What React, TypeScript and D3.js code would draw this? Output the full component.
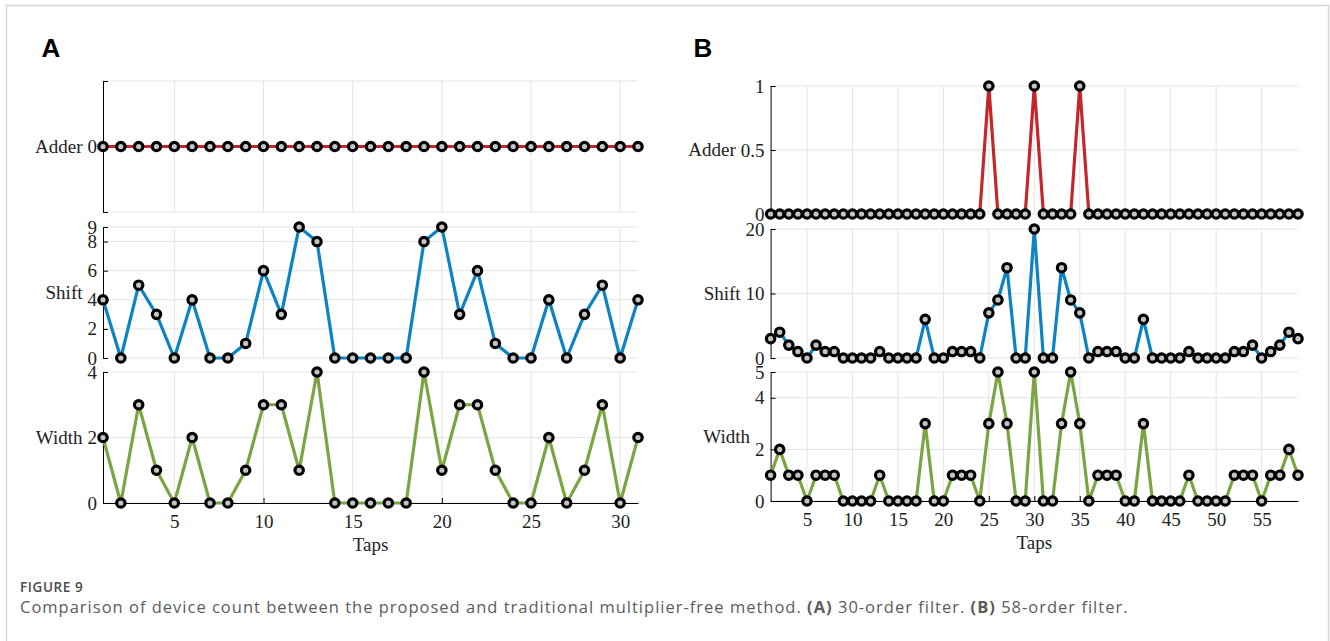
import React, { useEffect, useRef } from 'react';
import * as d3 from 'd3';

// Panel A: 30-order filter (31 taps)
const tapsA = d3.range(1, 32);
const adderA = [0, 0, 0, 0, 0, 0, 0, 0, 0, 0, 0, 0, 0, 0, 0, 0, 0, 0, 0, 0, 0, 0, 0, 0, 0, 0, 0, 0, 0, 0, 0];
const shiftA = [4, 0, 5, 3, 0, 4, 0, 0, 1, 6, 3, 9, 8, 0, 0, 0, 0, 0, 8, 9, 3, 6, 1, 0, 0, 4, 0, 3, 5, 0, 4];
const widthA = [2, 0, 3, 1, 0, 2, 0, 0, 1, 3, 3, 1, 4, 0, 0, 0, 0, 0, 4, 1, 3, 3, 1, 0, 0, 2, 0, 1, 3, 0, 2];

// Panel B: 58-order filter (59 taps)
const tapsB = d3.range(1, 60);
const adderB = [0, 0, 0, 0, 0, 0, 0, 0, 0, 0, 0, 0, 0, 0, 0, 0, 0, 0, 0, 0, 0, 0, 0, 0, 1, 0, 0, 0, 0, 1,
  0, 0, 0, 0, 1, 0, 0, 0, 0, 0, 0, 0, 0, 0, 0, 0, 0, 0, 0, 0, 0, 0, 0, 0, 0, 0, 0, 0, 0];
const shiftB = [3, 4, 2, 1, 0, 2, 1, 1, 0, 0, 0, 0, 1, 0, 0, 0, 0, 6, 0, 0, 1, 1, 1, 0, 7, 9, 14, 0, 0, 20,
  0, 0, 14, 9, 7, 0, 1, 1, 1, 0, 0, 6, 0, 0, 0, 0, 1, 0, 0, 0, 0, 1, 1, 2, 0, 1, 2, 4, 3];
const widthB = [1, 2, 1, 1, 0, 1, 1, 1, 0, 0, 0, 0, 1, 0, 0, 0, 0, 3, 0, 0, 1, 1, 1, 0, 3, 5, 3, 0, 0, 5,
  0, 0, 3, 5, 3, 0, 1, 1, 1, 0, 0, 3, 0, 0, 0, 0, 1, 0, 0, 0, 0, 1, 1, 1, 0, 1, 1, 2, 1];

// tick values
const xTicksA = [5, 10, 15, 20, 25, 30];
const xTicksB = [5, 10, 15, 20, 25, 30, 35, 40, 45, 50, 55];
const adderTicksA = [-1, 0, 1];
const shiftTicksA = [0, 2, 4, 6, 8, 9];
const widthTicksA = [0, 2, 4];
const adderTicksB = [0, 0.5, 1];
const shiftTicksB = [0, 10, 20];
const widthTicksB = [0, 2, 4, 5];

const RED = '#c4262c';
const BLUE = '#0d82c4';
const GREEN = '#7ba442';
const SERIF = '"Liberation Serif", "Times New Roman", serif';

const App = () => {
  const ref = useRef<SVGSVGElement>(null);

  useEffect(() => {
    const svg = d3.select(ref.current);
    svg.selectAll('*').remove();

    // outer frame
    svg.append('path')
      .attr('d', 'M6.5,700 V5.5 H1328.5 V700')
      .attr('fill', 'none')
      .attr('stroke', '#d6d6d6')
      .attr('stroke-width', 1.5);

    const drawSub = (x, taps, values, domain, yRange, ticks, tickFmt, color, label, xTicks, bottom) => {
      const y = d3.scaleLinear().domain(domain).range(yRange);
      const [x0, x1] = x.range();
      const g = svg.append('g');

      // grid
      g.selectAll('.vg').data(xTicks).enter().append('line')
        .attr('x1', d => x(d)).attr('x2', d => x(d))
        .attr('y1', yRange[0]).attr('y2', yRange[1])
        .attr('stroke', '#e4e4e4').attr('stroke-width', 1);
      g.selectAll('.hg').data(ticks).enter().append('line')
        .attr('x1', x0).attr('x2', x1)
        .attr('y1', d => y(d)).attr('y2', d => y(d))
        .attr('stroke', '#e4e4e4').attr('stroke-width', 1);

      // y axis
      const ay = g.append('g')
        .attr('transform', `translate(${x0},0)`)
        .call(d3.axisLeft(y).tickValues(ticks).tickFormat(tickFmt).tickSize(-5).tickSizeOuter(0).tickPadding(6));
      ay.select('.domain').attr('stroke', '#000');
      ay.selectAll('line').attr('stroke', '#000');
      ay.selectAll('text').attr('font-family', SERIF).attr('font-size', 19).attr('fill', '#222');

      // y label next to the widest tick label
      let minX = 0;
      ay.selectAll('text').each(function () {
        const t = this as SVGTextElement;
        if (t.textContent) minX = Math.min(minX, -6 - t.getComputedTextLength());
      });
      g.append('text')
        .attr('x', x0 + minX - 5)
        .attr('y', (yRange[0] + yRange[1]) / 2)
        .attr('dy', '0.32em')
        .attr('text-anchor', 'end')
        .attr('font-family', SERIF).attr('font-size', 19).attr('fill', '#222')
        .text(label);

      if (bottom) {
        const ax = g.append('g')
          .attr('transform', `translate(0,${yRange[0]})`)
          .call(d3.axisBottom(x).tickValues(xTicks).tickSize(-5).tickSizeOuter(0).tickPadding(12));
        ax.select('.domain').attr('stroke', '#000');
        ax.selectAll('line').attr('stroke', '#000');
        ax.selectAll('text').attr('font-family', SERIF).attr('font-size', 19).attr('fill', '#222');
        g.append('text')
          .attr('x', (x0 + x1) / 2)
          .attr('y', yRange[0] + 48)
          .attr('text-anchor', 'middle')
          .attr('font-family', SERIF).attr('font-size', 19).attr('fill', '#222')
          .text('Taps');
      }

      const line = d3.line<number>()
        .x((d, i) => x(taps[i]))
        .y(d => y(d));
      g.append('path')
        .datum(values)
        .attr('fill', 'none')
        .attr('stroke', color)
        .attr('stroke-width', 3.2)
        .attr('stroke-linejoin', 'round')
        .attr('d', line);

      g.selectAll('.pt').data(values).enter().append('circle')
        .attr('cx', (d, i) => x(taps[i]))
        .attr('cy', d => y(d))
        .attr('r', 4.2)
        .attr('fill', '#c4c4c4')
        .attr('stroke', '#000')
        .attr('stroke-width', 3.2);
    };

    const xA = d3.scaleLinear().domain([1, 31]).range([103, 638]);
    const xB = d3.scaleLinear().domain([1, 59]).range([770.6, 1298]);
    const fmt = d => String(d);

    drawSub(xA, tapsA, adderA, [-1, 1], [212, 81], adderTicksA, d => (d === 0 ? '0' : ''), RED, 'Adder', xTicksA, false);
    drawSub(xA, tapsA, shiftA, [0, 9], [358, 227], shiftTicksA, fmt, BLUE, 'Shift', xTicksA, false);
    drawSub(xA, tapsA, widthA, [0, 4], [503, 372], widthTicksA, fmt, GREEN, 'Width', xTicksA, true);

    drawSub(xB, tapsB, adderB, [0, 1], [214, 86], adderTicksB, fmt, RED, 'Adder', xTicksB, false);
    drawSub(xB, tapsB, shiftB, [0, 20], [358, 229], shiftTicksB, fmt, BLUE, 'Shift', xTicksB, false);
    drawSub(xB, tapsB, widthB, [0, 5], [501, 372], widthTicksB, fmt, GREEN, 'Width', xTicksB, true);

    // panel letters
    [['A', 51], ['B', 703]].forEach(([t, px]) => {
      svg.append('text')
        .attr('x', px).attr('y', 57)
        .attr('text-anchor', 'middle')
        .attr('font-family', '"Liberation Sans", Arial, sans-serif')
        .attr('font-weight', 'bold')
        .attr('font-size', 26)
        .attr('fill', '#000')
        .text(t);
    });

    // caption
    svg.append('text')
      .attr('x', 20).attr('y', 592)
      .attr('font-family', '"Open Sans", sans-serif')
      .attr('font-size', 13.5)
      .attr('font-weight', 600)
      .attr('letter-spacing', 0.6)
      .attr('fill', '#4a4a4a')
      .text('FIGURE 9');
    const cap = svg.append('text')
      .attr('x', 20).attr('y', 613)
      .attr('font-family', '"Open Sans", sans-serif')
      .attr('font-size', 16.5)
      .attr('letter-spacing', 1)
      .attr('fill', '#5c5c5c');
    cap.append('tspan').text('Comparison of device count between the proposed and traditional multiplier-free method. ');
    cap.append('tspan').attr('font-weight', 'bold').text('(A)');
    cap.append('tspan').text(' 30-order filter. ');
    cap.append('tspan').attr('font-weight', 'bold').text('(B)');
    cap.append('tspan').text(' 58-order filter.');
  }, []);

  return (
    <svg ref={ref} width={1330} height={641}
      style={{ position: 'absolute', left: 0, top: 0, background: '#fff' }} />
  );
};

export default App;
